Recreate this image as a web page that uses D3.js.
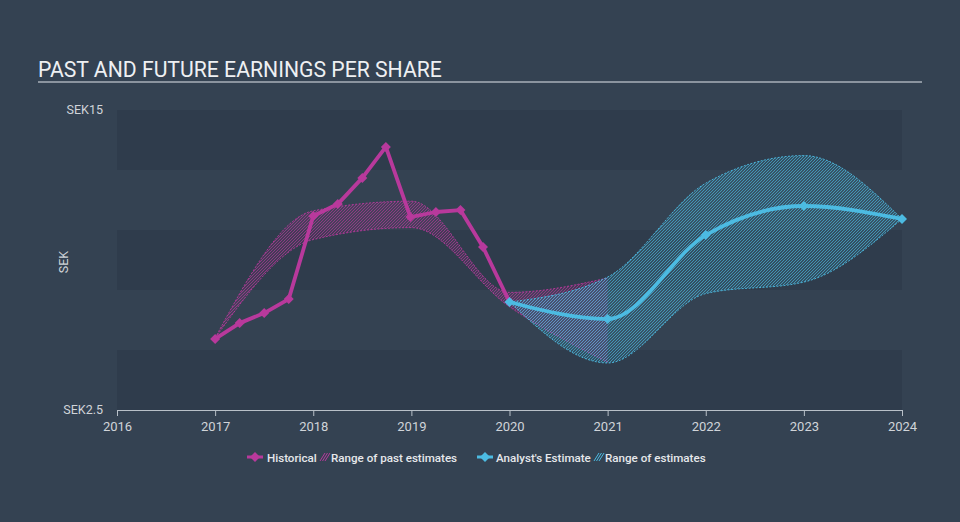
<!DOCTYPE html>
<html>
<head>
<meta charset="utf-8">
<script src="https://cdn.jsdelivr.net/npm/d3@7"></script>
<style>
  html, body { margin: 0; padding: 0; background: #344252; }
  svg { display: block; }
  text { font-family: Roboto, "Noto Sans", sans-serif; }
</style>
</head>
<body>
<svg id="chart" width="960" height="522"></svg>
<script>
// ---- Data ----
const histDates = [2017.0, 2017.25, 2017.5, 2017.75, 2018.0, 2018.25, 2018.5, 2018.74, 2018.99, 2019.25, 2019.5, 2019.73, 2020.0];
const histValues = [5.46, 6.12, 6.54, 7.12, 10.58, 11.08, 12.17, 13.46, 10.54, 10.75, 10.83, 9.29, 7.0];

const pastRangeDates = [2017, 2018, 2019, 2020, 2021];
const pastRangeLow = [5.5, 9.6, 10.1, 6.8, 4.5];
const pastRangeHigh = [5.5, 10.8, 11.2, 7.4, 8.0];

const estDates = [2020, 2021, 2022, 2023, 2024];
const estValues = [7.0, 6.29, 9.79, 11.0, 10.46];
const estLow = [7.0, 4.46, 7.35, 7.83, 10.46];
const estHigh = [7.0, 8.04, 11.95, 13.1, 10.46];

const xTicks = [2016, 2017, 2018, 2019, 2020, 2021, 2022, 2023, 2024];
const yTickValues = [15, 2.5];
const yTickLabels = ["SEK15", "SEK2.5"];
const bandEdges = [15, 12.5, 10, 7.5, 5, 2.5];

const titleText = "PAST AND FUTURE EARNINGS PER SHARE";
const yAxisTitle = "SEK";

// ---- Setup ----
const svg = d3.select("#chart");
const W = 960, H = 522;
const plot = { left: 117, right: 902, top: 110, bottom: 410 };
const magenta = "#b8399c";
const blue = "#4cbbe2";

const x = d3.scaleLinear().domain([2016, 2024]).range([plot.left, plot.right]);
const y = d3.scaleLinear().domain([2.5, 15]).range([plot.bottom, plot.top]);

svg.append("rect").attr("width", W).attr("height", H).attr("fill", "#344252");

const defs = svg.append("defs");
function hatch(id, color) {
  const p = defs.append("pattern").attr("id", id).attr("patternUnits", "userSpaceOnUse")
    .attr("width", 3).attr("height", 3);
  p.append("path").attr("d", "M-1,1 l2,-2 M0,3 l3,-3 M2,4 l2,-2")
    .attr("stroke", color).attr("stroke-width", 0.9);
}
hatch("hatchPast", magenta);
hatch("hatchEst", blue);

// title
svg.append("text").attr("x", 38).attr("y", 77).attr("fill", "#eef0f2")
  .attr("font-size", 21.2).text(titleText);
svg.append("line").attr("x1", 38).attr("x2", 922).attr("y1", 82).attr("y2", 82)
  .attr("stroke", "#a9b1ba").attr("stroke-width", 1.5);

// bands
for (let i = 0; i < bandEdges.length - 1; i++) {
  if (i % 2 === 0) {
    svg.append("rect").attr("x", plot.left).attr("width", plot.right - plot.left)
      .attr("y", y(bandEdges[i])).attr("height", y(bandEdges[i + 1]) - y(bandEdges[i]))
      .attr("fill", "#2f3c4c");
  }
}

// y labels
svg.selectAll("text.ytick").data(yTickValues).enter().append("text")
  .attr("class", "ytick")
  .attr("x", 103).attr("y", d => y(d) + 4).attr("text-anchor", "end")
  .attr("fill", "#d0d4d9").attr("font-size", 12.5)
  .text((d, i) => yTickLabels[i]);
svg.append("text").attr("transform", `translate(68,262) rotate(-90)`)
  .attr("text-anchor", "middle").attr("fill", "#d0d4d9").attr("font-size", 12.5)
  .text(yAxisTitle);

// x axis
const xAxis = d3.axisBottom(x).tickValues(xTicks).tickFormat(d3.format("d")).tickSize(6).tickSizeOuter(0);
const gx = svg.append("g").attr("transform", `translate(0,${plot.bottom})`).call(xAxis);
gx.select(".domain").attr("stroke", "#b8c0c8").attr("stroke-width", 1);
gx.selectAll(".tick line").attr("stroke", "#b8c0c8");
gx.selectAll(".tick text").attr("fill", "#d0d4d9").attr("font-size", 13)
  .attr("font-family", "Roboto, sans-serif").attr("dy", "0.9em");

const curve = d3.curveMonotoneX;
function areaGen(dates, lo, hi) {
  return d3.area().curve(curve)
    .x((d, i) => x(dates[i])).y0((d, i) => y(lo[i])).y1((d, i) => y(hi[i]))(dates);
}
function lineGen(dates, vals, c) {
  return d3.line().curve(c).x((d, i) => x(dates[i])).y((d, i) => y(vals[i]))(dates);
}
function drawRange(dates, lo, hi, color, pat) {
  svg.append("path").attr("d", areaGen(dates, lo, hi)).attr("fill", color).attr("fill-opacity", 0.15);
  svg.append("path").attr("d", areaGen(dates, lo, hi)).attr("fill", `url(#${pat})`).attr("opacity", 0.7);
  [lo, hi].forEach(arr => {
    svg.append("path").attr("d", lineGen(dates, arr, curve)).attr("fill", "none")
      .attr("stroke", color).attr("stroke-width", 1).attr("stroke-dasharray", "2,1.5").attr("opacity", 0.9);
  });
}
drawRange(pastRangeDates, pastRangeLow, pastRangeHigh, magenta, "hatchPast");
drawRange(estDates, estLow, estHigh, blue, "hatchEst");

const diamondPath = "M0,-5L5,0L0,5L-5,0Z";

svg.append("path").attr("d", lineGen(histDates, histValues, d3.curveLinear))
  .attr("fill", "none").attr("stroke", magenta).attr("stroke-width", 3.8)
  .attr("stroke-linejoin", "round");
svg.selectAll("path.hpt").data(histDates).enter().append("path").attr("class", "hpt")
  .attr("d", diamondPath).attr("fill", magenta)
  .attr("transform", (d, i) => `translate(${x(d)},${y(histValues[i])})`);

svg.append("path").attr("d", lineGen(estDates, estValues, d3.curveMonotoneX))
  .attr("fill", "none").attr("stroke", blue).attr("stroke-width", 3.8);
svg.selectAll("path.ept").data(estDates).enter().append("path").attr("class", "ept")
  .attr("d", diamondPath).attr("fill", blue)
  .attr("transform", (d, i) => `translate(${x(d)},${y(estValues[i])})`);

// legend
const ly = 457;
const lg = svg.append("g");
function legendMarker(cx, color) {
  lg.append("line").attr("x1", cx - 8).attr("x2", cx + 8).attr("y1", ly).attr("y2", ly)
    .attr("stroke", color).attr("stroke-width", 3);
  lg.append("path").attr("d", diamondPath).attr("fill", color).attr("transform", `translate(${cx},${ly})`);
}
function legendHatch(x0, color) {
  for (let k = 0; k < 3; k++) {
    lg.append("line").attr("x1", x0 + k * 2.5).attr("y1", ly + 4).attr("x2", x0 + k * 2.5 + 5).attr("y2", ly - 4)
      .attr("stroke", color).attr("stroke-width", 1);
  }
}
function legendText(x0, t) {
  lg.append("text").attr("x", x0).attr("y", ly + 4.5).attr("fill", "#e6e8eb")
    .attr("font-size", 11.6).attr("font-weight", 500).text(t);
}
legendMarker(255, magenta);
legendText(267, "Historical");
legendHatch(320, magenta);
legendText(331, "Range of past estimates");
legendMarker(485, blue);
legendText(496, "Analyst's Estimate");
legendHatch(594, blue);
legendText(605, "Range of estimates");
</script>
</body>
</html>
